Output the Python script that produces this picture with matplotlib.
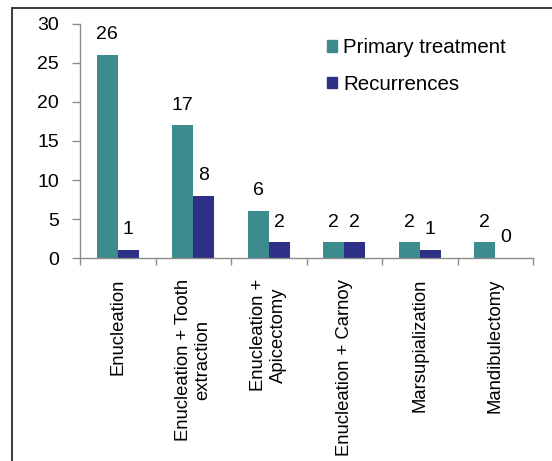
import numpy as np
import matplotlib
matplotlib.use("Agg")
import matplotlib.pyplot as plt
from matplotlib.patches import Patch
from matplotlib.lines import Line2D

categories = [
    "Enucleation",
    "Enucleation + Tooth\nextraction",
    "Enucleation +\nApicectomy",
    "Enucleation + Carnoy",
    "Marsupialization",
    "Mandibulectomy",
]
primary_treatment = [26, 17, 6, 2, 2, 2]
recurrences = [1, 8, 2, 2, 1, 0]
y_ticks = [0, 5, 10, 15, 20, 25, 30]

TEAL = "#3c8b8d"
NAVY = "#2e2f86"
AXIS_GRAY = "#8c8c8c"

plt.rcParams["font.family"] = ["Liberation Sans", "DejaVu Sans"]

fig = plt.figure(figsize=(5.52, 4.61), dpi=100)
ax = fig.add_axes([0.145, 0.4403, 0.8206, 0.5077])

x = np.arange(len(categories))
w = 0.28
b1 = ax.bar(x - w / 2, primary_treatment, w, color=TEAL, label="Primary treatment")
b2 = ax.bar(x + w / 2, recurrences, w, color=NAVY, label="Recurrences")

for bars, vals in ((b1, primary_treatment), (b2, recurrences)):
    for rect, v in zip(bars, vals):
        ax.annotate(str(v), (rect.get_x() + rect.get_width() / 2, v),
                    xytext=(0, 8.5), textcoords="offset points",
                    ha="center", va="bottom", fontsize=14)

ax.set_xlim(-0.5, len(categories) - 0.5)
ax.set_ylim(0, 30)
ax.set_yticks(y_ticks)
ax.tick_params(axis="y", labelsize=14, length=6, width=1, color=AXIS_GRAY, pad=9)

# category boundaries carry the tick marks, centres carry the labels
ax.set_xticks(np.arange(len(categories) + 1) - 0.5)
ax.set_xticklabels([])
ax.tick_params(axis="x", which="major", length=5, width=1, color=AXIS_GRAY)
ax.set_xticks(x, categories, minor=True)
ax.tick_params(axis="x", which="minor", length=0, pad=15, labelsize=13.3)
for lbl in ax.get_xticklabels(minor=True):
    lbl.set_rotation(90)
    lbl.set_va("top")
    lbl.set_ha("center")
    lbl.set_multialignment("center")

for side in ("top", "right"):
    ax.spines[side].set_visible(False)
for side in ("left", "bottom"):
    ax.spines[side].set_color(AXIS_GRAY)
    ax.spines[side].set_linewidth(1)

handles = [Patch(color=TEAL, label="Primary treatment"),
           Patch(color=NAVY, label="Recurrences")]
fig.legend(handles=handles, loc="upper left", bbox_to_anchor=(0.592, 0.917),
           frameon=False, fontsize=14.8, handlelength=0.5, handleheight=0.5,
           handletextpad=0.3, labelspacing=0.85, borderaxespad=0, borderpad=0)

# outer frame lines along the left and top
fig.add_artist(Line2D([12 / 552, 12 / 552], [0, 1 - 8 / 461], color="#3a3a3a",
                      lw=1.4, transform=fig.transFigure))
fig.add_artist(Line2D([12 / 552, 1], [1 - 8 / 461, 1 - 8 / 461], color="#3a3a3a",
                      lw=1.4, transform=fig.transFigure))

fig.savefig("out.png", dpi=100)
